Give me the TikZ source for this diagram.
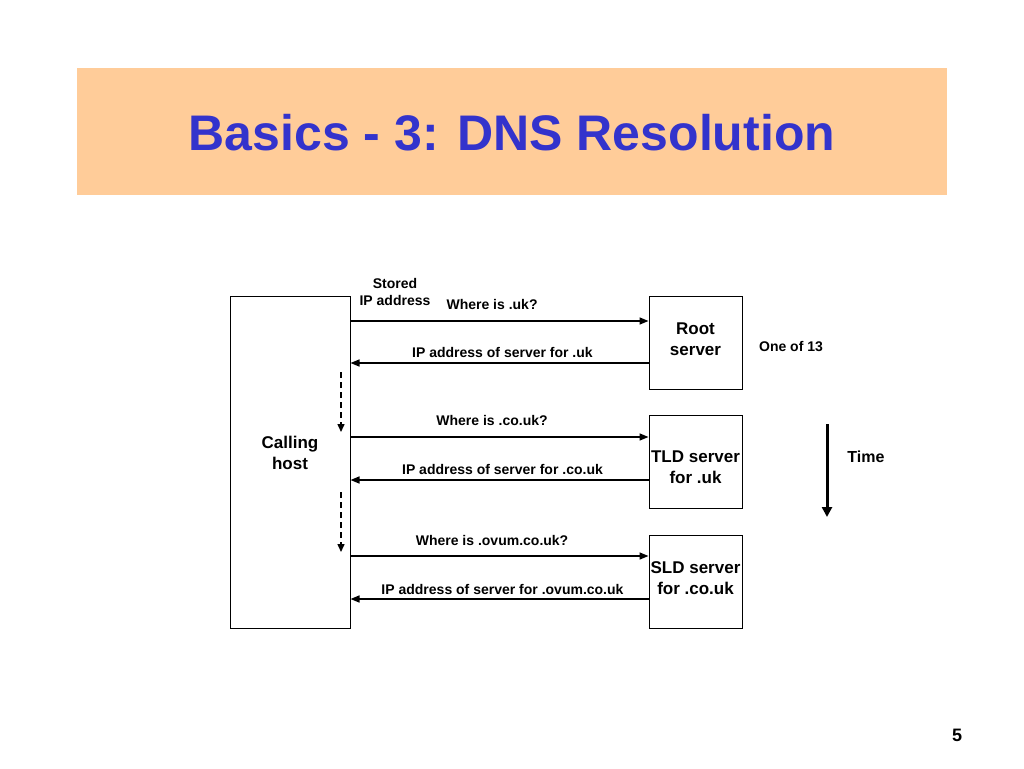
\documentclass[tikz,border=0pt]{standalone}
\usepackage{fontspec}
\setmainfont{Liberation Sans}
\usetikzlibrary{arrows.meta,positioning}
\tikzset {>={Triangle[length=9pt,width=7pt]}}
\definecolor{banner}{RGB}{255,204,153}
\definecolor{titleblue}{RGB}{51,51,204}
\tikzset{box/.style={draw,line width=1pt,inner sep=0pt},
  boxtext/.style={align=center,inner sep=0pt,font=\fontsize{17}{21}\selectfont\bfseries},
  msg/.style={line width=1.5pt,->},
  lbl/.style={font=\fontsize{14}{17}\selectfont\bfseries,inner sep=0pt,align=center}}
\begin{document}
\begin{tikzpicture}[x=1pt,y=-1pt]
\useasboundingbox (0,0) rectangle (1024,768);
\node[fill=banner,minimum width=870pt,minimum height=127pt,inner sep=0pt] (banner) at (512,131.5) {};
\node[text=titleblue,font=\fontsize{50}{60}\selectfont\bfseries] (title) at (512,133) {Basics - 3: DNS Resolution};
\node[box,minimum width=120pt,minimum height=332pt] (host) at (290,462) {};
\node[box,minimum width=93pt,minimum height=93pt] (root) at (695.5,342.5) {};
\node[box,minimum width=93pt,minimum height=93pt] (tld) at (695.5,461.5) {};
\node[box,minimum width=93pt,minimum height=93pt] (sld) at (695.5,581.5) {};
\node[boxtext] (hosttext) at (290,453) {Calling\\host};
\node[boxtext] (roottext) at (695.5,339.5) {Root\\server};
\node[boxtext] (tldtext) at (695.5,467) {TLD server\\for .uk};
\node[boxtext] (sldtext) at (695.5,578.5) {SLD server\\for .co.uk};
\node[lbl] (stored) at (395,292) {Stored\\IP address};
\node[lbl] (one13) at (791,347) {One of 13};
\node[font=\fontsize{18}{21}\selectfont\bfseries] (page) at (957,735) {5};
% queries and replies
\coordinate (q1) at ([yshift=21.5pt]root.west);
\coordinate (r1) at ([yshift=-20.5pt]root.west);
\coordinate (q2) at ([yshift=24.5pt]tld.west);
\coordinate (r2) at ([yshift=-18.5pt]tld.west);
\coordinate (q3) at ([yshift=25.5pt]sld.west);
\coordinate (r3) at ([yshift=-17.5pt]sld.west);
\draw[msg] (host.east |- q1) -- node[lbl,pos=.475,yshift=17pt] {Where is .uk?} (q1);
\draw[msg,<-] (host.east |- r1) -- node[lbl,pos=.51,yshift=11pt] {IP address of server for .uk} (r1);
\draw[msg] (host.east |- q2) -- node[lbl,pos=.475,yshift=17pt] {Where is .co.uk?} (q2);
\draw[msg,<-] (host.east |- r2) -- node[lbl,pos=.51,yshift=11pt] {IP address of server for .co.uk} (r2);
\draw[msg] (host.east |- q3) -- node[lbl,pos=.475,yshift=16pt] {Where is .ovum.co.uk?} (q3);
\draw[msg,<-] (host.east |- r3) -- node[lbl,pos=.51,yshift=10pt] {IP address of server for .ovum.co.uk} (r3);
% waiting
\coordinate (w1s) at (341,372);
\coordinate (w1e) at (341,432);
\coordinate (w2s) at (341,492);
\coordinate (w2e) at (341,552);
\draw[line width=1.5pt,dash pattern=on 6pt off 4pt,-{Triangle[length=8pt,width=7pt]}] (w1s) -- (w1e);
\draw[line width=1.5pt,dash pattern=on 6pt off 4pt,-{Triangle[length=8pt,width=7pt]}] (w2s) -- (w2e);
% time
\coordinate (t1) at (827,424);
\coordinate (t2) at (827,517);
\draw[line width=3pt,-{Triangle[length=10pt,width=10pt]}] (t1) -- (t2);
\node[font=\fontsize{16}{19}\selectfont\bfseries] (time) at (866,457) {Time};
\end{tikzpicture}
\end{document}
